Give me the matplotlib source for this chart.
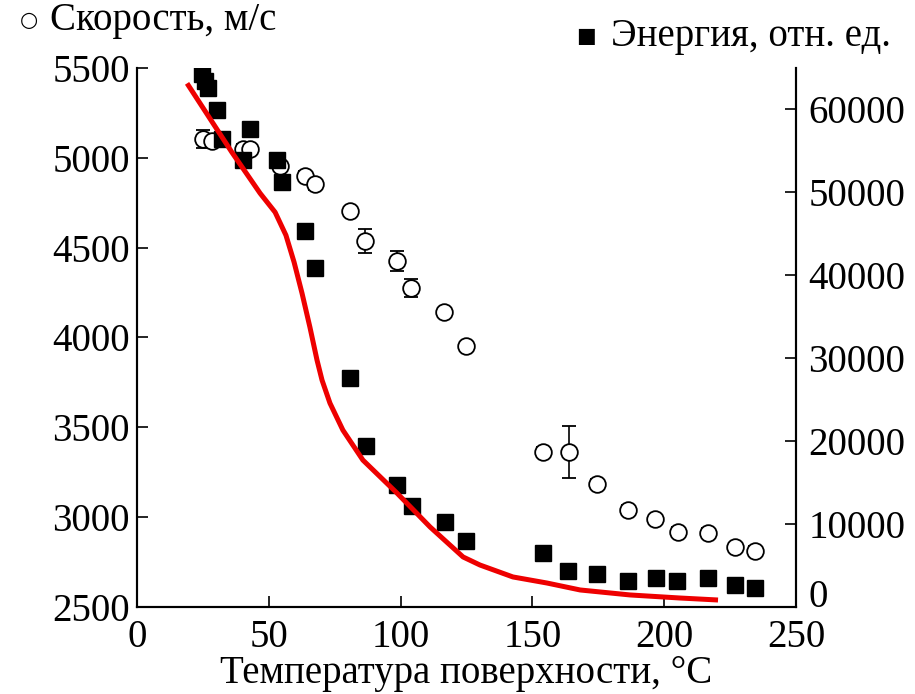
import numpy as np
import matplotlib.pyplot as plt

plt.rcParams['font.family'] = ['Liberation Serif', 'DejaVu Serif']

# velocity (open circles), m/s
t_vel = [25.0, 28.5, 40.2, 42.9, 54.2, 63.7, 67.5, 80.8, 86.5, 98.6, 103.9,
         116.5, 124.8, 154.0, 163.9, 174.5, 186.3, 196.5, 205.2, 216.6, 226.9, 234.4]
vel = [5105, 5093, 5049, 5049, 4954, 4898, 4853, 4703, 4536, 4424, 4273,
       4140, 3950, 3364, 3364, 3186, 3041, 2991, 2918, 2913, 2835, 2812]
vel_err = [50, 30, 30, 30, 30, 30, 30, 25, 65, 55, 50,
           25, 25, 25, 145, 25, 25, 0, 25, 25, 0, 25]

# energy (filled squares), arb. units
t_en = [24.7, 25.8, 26.9, 30.3, 32.2, 40.2, 42.9, 53.1, 55.0, 63.7, 67.5,
        80.8, 86.9, 98.6, 104.3, 116.8, 124.8, 154.0, 163.5, 174.5, 186.3,
        196.9, 204.9, 216.6, 226.9, 234.4]
energy = [64230, 63380, 62540, 59890, 56390, 53860, 57600, 53860, 51210, 45310, 40850,
          27590, 19400, 14700, 12170, 10240, 7950, 6510, 4340, 3980, 3130,
          3490, 3130, 3490, 2650, 2290]

# red curve (energy units)
t_fit = [19.0, 36.0, 46.7, 52.4, 56.5, 59.6, 62.6, 65.6, 68.3, 70.2, 73.2, 78.1, 85.7,
         98.6, 111.2, 123.7, 130.1, 142.6, 155.5, 168.1, 187.0, 206.0, 220.4]
e_fit = [63140, 54830, 49890, 47600, 44830, 41570, 37840, 33740, 29760, 27350, 24580, 21330, 17710,
         13740, 9640, 6030, 5060, 3620, 2890, 2050, 1450, 1080, 840]

fig = plt.figure(figsize=(9.15, 6.94), dpi=100)
ax = fig.add_axes([0.1497, 0.1254, 0.7203, 0.7767])
ax2 = ax.twinx()

ax.errorbar(t_vel, vel, yerr=vel_err, fmt='o', mfc='white', mec='black', mew=1.3,
            ms=12, ecolor='black', elinewidth=1.2, capsize=5, capthick=1.2)
ax2.plot(t_en, energy, 's', color='black', ms=11)
ax2.plot(t_fit, e_fit, '-', color='#ee0000', lw=3.6, solid_capstyle='butt')

ax.set_xlim(0, 250)
ax.set_ylim(2500, 5500)
ax2.set_ylim(0, 65000)
ax.set_xticks([0, 50, 100, 150, 200, 250])
ax.set_yticks([2500, 3000, 3500, 4000, 4500, 5000, 5500])
ax2.set_yticks([0, 10000, 20000, 30000, 40000, 50000, 60000])

for a in (ax, ax2):
    a.spines['top'].set_visible(False)
    for s in a.spines.values():
        s.set_linewidth(1.5)
ax.tick_params(axis='both', direction='in', length=8, width=1.2, labelsize=28)
ax.tick_params(axis='y', pad=5)
ax.tick_params(axis='x', pad=9)
ax2.tick_params(axis='y', direction='in', length=8, width=1.2, labelsize=28, pad=9)
# the "0" on the right sits just above its tick, as in the original
ax2.yaxis.get_major_ticks()[0].label2.set_va('baseline')

ax.set_xlabel('Температура поверхности, °C', fontsize=28, labelpad=-1)

fig.text(0.022, 0.971, '○', fontsize=15, va='center', family=['DejaVu Sans'])
fig.text(0.055, 0.971, 'Скорость, м/с', fontsize=28, va='center')
fig.text(0.630, 0.948, '■', fontsize=15, va='center', family=['DejaVu Sans'])
fig.text(0.668, 0.948, 'Энергия, отн. ед.', fontsize=28, va='center')

fig.savefig('out.png', dpi=100)
